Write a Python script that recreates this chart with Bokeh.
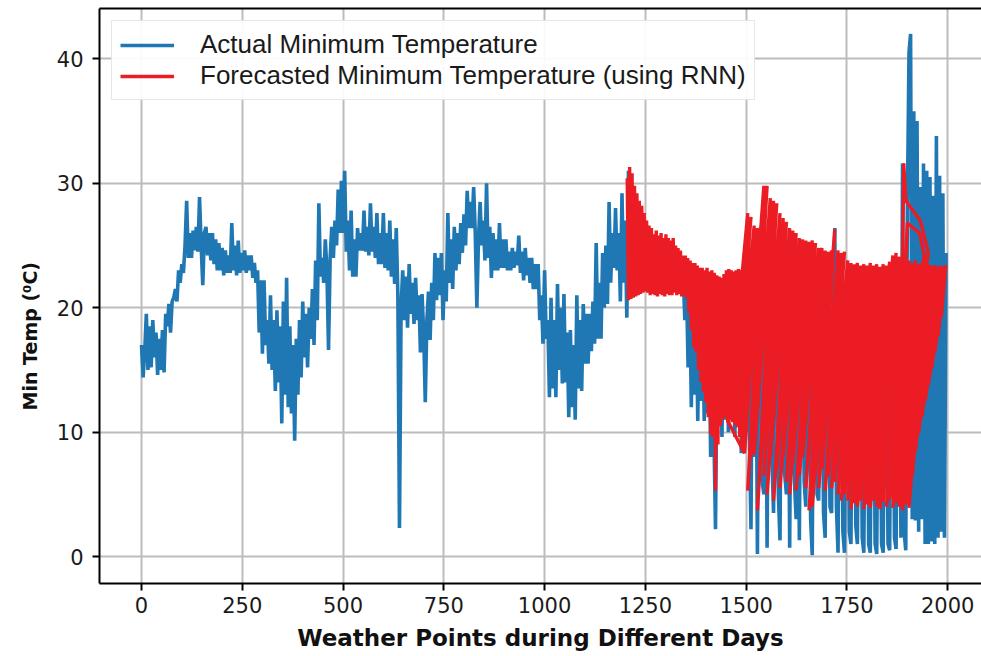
from bokeh.plotting import figure
from bokeh.models import (ColumnDataSource, FixedTicker, LinearAxis, Legend, LegendItem,
                          Range1d, Title)
from bokeh.embed import file_html
from bokeh.resources import INLINE

# ---------------- data ----------------
x_ticks = [0, 250, 500, 750, 1000, 1250, 1500, 1750, 2000]
y_ticks = [0, 10, 20, 30, 40]

# actual minimum temperature, one reading every 4 weather points (0..1996)
actual_day = list(range(0, 2000, 4))
actual_temp = [
    17.0, 14.4, 16.5, 19.5, 15.0, 18.5, 15.2, 19.0, 16.0, 18.0,
    14.6, 17.5, 15.0, 18.2, 14.8, 19.5, 18.5, 20.3, 18.0, 20.5,
    20.8, 21.5, 20.5, 23.0, 22.0, 23.5, 22.8, 25.0, 28.6, 24.0,
    26.0, 24.0, 26.2, 24.6, 26.5, 24.5, 28.9, 25.0, 21.8, 26.0,
    26.5, 24.2, 26.0, 23.8, 26.0, 23.5, 25.5, 23.0, 25.2, 23.0,
    24.8, 22.6, 24.6, 22.8, 24.2, 22.8, 26.8, 23.0, 25.0, 22.6,
    25.4, 22.8, 24.4, 23.0, 24.6, 22.8, 24.2, 23.0, 24.2, 22.4,
    23.6, 22.0, 23.0, 18.0, 22.2, 16.3, 22.2, 17.0, 19.0, 15.5,
    21.0, 15.0, 19.0, 13.3, 19.8, 14.0, 18.5, 10.7, 20.5, 13.0,
    22.4, 12.0, 18.5, 11.5, 17.0, 9.3, 17.5, 13.0, 19.0, 14.4,
    20.5, 16.0, 19.5, 15.2, 20.0, 17.5, 21.5, 17.0, 23.8, 19.0,
    28.4, 22.5, 24.0, 22.0, 25.5, 23.0, 16.6, 24.0, 26.5, 24.0,
    27.0, 25.0, 29.5, 26.0, 30.2, 26.0, 31.0, 24.5, 27.0, 23.0,
    27.8, 22.5, 25.5, 22.5, 26.4, 24.6, 26.0, 24.6, 27.8, 24.5,
    26.5, 24.2, 28.4, 24.5, 26.5, 24.0, 27.6, 23.5, 26.0, 23.5,
    27.6, 23.2, 26.0, 23.0, 27.0, 22.5, 25.5, 21.9, 26.4, 21.0,
    2.3, 20.0, 23.0, 19.0, 22.5, 18.4, 23.5, 19.5, 22.0, 18.7,
    22.4, 19.0, 21.0, 16.4, 21.1, 18.0, 12.4, 19.0, 21.3, 17.4,
    22.0, 19.0, 24.4, 20.6, 24.0, 21.0, 24.4, 19.0, 23.0, 20.5,
    27.6, 22.0, 25.5, 21.5, 26.5, 23.0, 26.0, 23.5, 26.8, 24.4,
    27.5, 25.0, 29.4, 26.4, 28.5, 26.4, 29.7, 26.0, 20.0, 25.5,
    28.5, 25.0, 27.0, 23.8, 30.0, 24.0, 26.5, 22.4, 26.0, 23.0,
    25.5, 23.0, 26.8, 23.2, 25.5, 23.2, 25.5, 23.0, 24.5, 23.0,
    24.8, 23.2, 24.5, 23.4, 25.8, 22.8, 24.5, 22.2, 24.8, 22.6,
    24.0, 22.0, 24.0, 21.5, 23.5, 21.5, 23.5, 19.0, 21.0, 17.1,
    23.0, 17.5, 19.0, 12.8, 20.8, 13.5, 19.0, 12.8, 21.9, 15.0,
    20.0, 13.9, 21.1, 14.0, 18.0, 11.2, 18.2, 12.0, 17.0, 11.0,
    21.0, 13.5, 19.0, 13.3, 20.3, 15.5, 19.5, 15.5, 19.5, 16.5,
    20.5, 17.1, 25.2, 17.5, 22.0, 17.5, 24.4, 20.0, 25.0, 20.3,
    28.5, 22.0, 26.0, 23.2, 28.0, 23.0, 26.0, 20.5, 29.2, 22.0,
    27.0, 19.2, 31.0, 24.0, 28.0, 23.0, 28.0, 23.5, 27.5, 23.0,
    27.0, 22.5, 26.5, 22.5, 26.0, 22.0, 25.5, 22.0, 25.0, 21.5,
    25.0, 21.5, 24.5, 21.5, 24.5, 21.5, 24.0, 21.5, 24.0, 21.5,
    23.5, 21.5, 23.5, 21.2, 23.0, 21.2, 22.5, 19.0, 22.0, 15.2,
    21.5, 12.0, 21.0, 13.0, 20.5, 10.9, 20.0, 12.5, 19.5, 10.9,
    19.0, 11.5, 18.5, 8.0, 18.0, 10.0, 2.2, 17.0, 10.5, 16.0,
    9.6, 18.5, 11.0, 19.0, 10.0, 19.0, 11.0, 20.0, 9.6, 20.0,
    10.5, 20.5, 8.3, 21.0, 24.4, 10.0, 22.0, 10.5, 2.2, 22.0,
    8.0, 22.0, 0.2, 23.0, 24.0, 6.0, 5.0, 22.0, 0.7, 23.0,
    25.0, 8.0, 3.5, 22.0, 22.0, 5.0, 1.3, 21.0, 21.0, 6.5,
    5.0, 22.0, 0.7, 21.0, 22.0, 6.0, 3.0, 20.5, 1.3, 20.0,
    20.0, 6.0, 4.0, 21.0, 20.0, 3.0, 0.1, 21.5, 22.0, 5.0,
    4.5, 21.0, 20.0, 3.5, 1.5, 20.5, 21.0, 4.0, 3.5, 21.0,
    26.4, 4.0, 0.3, 20.5, 20.0, 2.0, 0.3, 19.5, 19.0, 2.0,
    1.0, 20.0, 21.0, 2.5, 1.0, 19.5, 18.0, 1.5, 0.3, 19.0,
    20.0, 1.0, 0.3, 19.5, 19.0, 1.0, 0.2, 18.0, 17.0, 1.0,
    0.3, 18.5, 18.0, 1.0, 0.5, 19.0, 20.0, 1.5, 0.6, 21.0,
    22.0, 1.5, 31.6, 2.0, 0.5, 28.0, 40.5, 42.0, 3.0, 35.8,
    2.9, 35.0, 2.0, 29.7, 3.0, 31.6, 1.0, 31.0, 1.0, 30.5,
    1.2, 29.0, 1.0, 33.8, 1.5, 30.6, 2.0, 29.2, 1.5, 24.4,
]

# forecasted minimum temperature (RNN), in the order the points were plotted
forecast_day = [
    1205, 1208, 1211, 1214, 1217, 1220, 1223, 1226, 1229, 1232,
    1235, 1238, 1241, 1244, 1247, 1250, 1253, 1256, 1259, 1262,
    1265, 1268, 1271, 1274, 1277, 1280, 1283, 1286, 1289, 1292,
    1295, 1298, 1301, 1304, 1307, 1310, 1313, 1316, 1319, 1322,
    1325, 1328, 1331, 1334, 1337, 1340, 1343, 1346, 1349, 1352,
    1355, 1358, 1361, 1364, 1367, 1370, 1373, 1376, 1379, 1382,
    1385, 1388, 1391, 1394, 1397, 1400, 1403, 1406, 1409, 1412,
    1415, 1418, 1421, 1424, 1427, 1430, 1433, 1436, 1439, 1442,
    1445, 1448, 1451, 1454, 1457, 1460, 1463, 1466, 1469, 1472,
    1475, 1478, 1481, 1484, 1487, 1490, 1493, 1496,
    1456, 1504, 1464, 1512, 1472, 1520, 1480, 1528, 1488, 1536,
    1496, 1544, 1504, 1552, 1512, 1560, 1520, 1568, 1528, 1576,
    1536, 1584, 1544, 1592, 1552, 1600, 1560, 1608, 1568, 1616,
    1576, 1624, 1584, 1632, 1592, 1640, 1600, 1648, 1608, 1656,
    1616, 1664, 1624, 1672, 1632, 1680, 1640, 1688, 1648, 1696,
    1656, 1704, 1664, 1712, 1672, 1720, 1680, 1728, 1688, 1736,
    1696, 1744, 1704, 1752, 1712, 1760, 1720, 1768, 1728, 1776,
    1736, 1784, 1744, 1792, 1752, 1800, 1760, 1808, 1768, 1816,
    1776, 1824, 1784, 1832, 1792, 1840, 1800, 1848, 1808, 1856,
    1816, 1864, 1824, 1872, 1832, 1880,
    1840, 1888, 1891, 1896, 1932, 1952,
    1848, 1896, 1900, 1930, 1942,
    1856, 1904, 1864, 1912, 1872, 1920, 1880, 1928, 1888, 1936,
    1896, 1944, 1904, 1952, 1912, 1960, 1920, 1968, 1928, 1976,
    1936, 1984, 1944, 1992, 1952, 1995, 1960, 1995, 1968, 1995,
    1976, 1995, 1984, 1995,
]
forecast_temp = [
    30.4, 20.6, 31.3, 20.7, 30.8, 20.8, 29.8, 20.9, 29.2, 21.0,
    28.6, 21.1, 28.2, 21.2, 27.6, 21.3, 27.0, 21.2, 26.6, 21.0,
    26.4, 21.1, 25.9, 21.0, 26.2, 20.9, 25.8, 21.1, 26.0, 21.0,
    25.6, 20.9, 25.9, 21.1, 25.6, 21.0, 25.4, 21.0, 25.6, 21.2,
    25.0, 21.0, 24.8, 21.1, 24.6, 20.9, 24.2, 21.0, 24.2, 20.8,
    24.0, 19.6, 23.8, 18.2, 23.6, 16.8, 23.6, 16.4, 23.4, 15.0,
    23.2, 14.0, 23.2, 13.2, 23.0, 12.4, 23.2, 11.2, 22.9, 9.8,
    23.0, 9.6, 22.8, 5.3, 22.6, 9.0, 22.5, 10.5, 22.4, 11.0,
    22.7, 11.2, 23.0, 10.8, 23.1, 11.0, 23.0, 10.8, 22.9, 10.6,
    23.0, 10.4, 23.1, 9.6, 23.0, 8.6, 22.8, 8.3,
    10.8, 27.6, 11.0, 27.3, 10.6, 26.6, 10.4, 26.4, 8.6, 26.5,
    8.3, 29.8, 5.3, 29.8, 8.0, 28.8, 8.2, 28.6, 3.7, 28.4,
    7.5, 27.6, 6.5, 27.2, 5.0, 26.9, 8.0, 26.4, 4.5, 26.2,
    7.0, 26.0, 5.5, 25.6, 8.0, 25.5, 6.0, 25.4, 5.0, 25.3,
    7.5, 25.4, 5.3, 25.2, 6.5, 24.8, 8.0, 24.8, 5.5, 24.6,
    3.7, 24.5, 4.0, 24.6, 6.5, 26.3, 5.5, 24.6, 7.0, 24.4,
    5.3, 24.5, 6.5, 23.8, 5.5, 23.6, 6.0, 23.5, 5.0, 23.6,
    4.5, 23.4, 5.0, 23.5, 4.5, 23.4, 3.8, 23.6, 4.3, 23.4,
    4.0, 23.5, 4.5, 23.3, 3.8, 23.5, 4.2, 23.4, 3.9, 23.7,
    4.5, 24.2, 4.0, 24.4, 3.8, 24.1,
    4.4, 23.8, 31.6, 28.6, 27.0, 24.4,
    4.0, 23.8, 26.8, 26.0, 24.2,
    4.6, 23.8, 3.9, 23.6, 4.3, 23.8, 4.0, 23.5, 3.7, 23.6,
    4.2, 23.4, 3.9, 23.5, 6.5, 23.4, 8.5, 23.4, 9.9, 23.3,
    11.2, 23.4, 12.5, 23.3, 13.8, 23.4, 15.1, 23.3, 16.4, 23.4,
    17.7, 23.3, 19.2, 23.4,
]

assert len(actual_day) == len(actual_temp)
assert len(forecast_day) == len(forecast_temp)

legend_labels = ["Actual Minimum Temperature",
                 "Forecasted Minimum Temperature (using RNN)"]
x_title = "Weather Points during Different Days"
y_title = "Min Temp (\u2070C)"

# ---------------- figure ----------------
p = figure(width=981, height=656,
           x_range=Range1d(-104.2, 2083.9), y_range=Range1d(-2.17, 44.05),
           output_backend="svg", toolbar_location=None,
           min_border_left=99, min_border_right=0,
           min_border_top=8, min_border_bottom=73)
p.outline_line_color = None
p.background_fill_color = "white"
p.border_fill_color = "white"

blue_src = ColumnDataSource(dict(x=actual_day, y=actual_temp))
red_src = ColumnDataSource(dict(x=forecast_day, y=forecast_temp))

r_blue = p.line("x", "y", source=blue_src, line_color="#1f77b4", line_width=3.6)
r_red = p.line("x", "y", source=red_src, line_color="#ec1c24", line_width=3.4)

# grid
for g in (p.xgrid, p.ygrid):
    g.grid_line_color = "#bcbcbc"
    g.grid_line_width = 2

# axes
p.xaxis.ticker = FixedTicker(ticks=x_ticks)
p.yaxis.ticker = FixedTicker(ticks=y_ticks)
for ax in (p.xaxis[0], p.yaxis[0]):
    ax.axis_line_color = "black"
    ax.axis_line_width = 2
    ax.major_tick_line_color = "black"
    ax.major_tick_line_width = 2
    ax.major_tick_out = 7
    ax.major_tick_in = 0
    ax.minor_tick_line_color = None
    ax.major_label_text_font = "DejaVu Sans"
    ax.major_label_text_font_size = "21px"
    ax.major_label_text_color = "#1a1a1a"
    ax.axis_label_text_font = "DejaVu Sans"
    ax.axis_label_text_font_style = "bold"
    ax.axis_label_text_color = "#111111"

p.xaxis.axis_label = x_title
p.xaxis.axis_label_text_font_size = "23px"
p.xaxis.major_label_standoff = 6
p.xaxis.axis_label_standoff = 9
p.yaxis.major_label_standoff = 9

# y title: a side title, placed a little below the frame centre as in the original
ytitle = Title(text=y_title, align="left", offset=173, standoff=26,
               text_font="DejaVu Sans", text_font_style="bold",
               text_font_size="19px", text_color="#111111")
p.add_layout(ytitle, "left")

# top spine
top = LinearAxis(ticker=FixedTicker(ticks=[]))
top.axis_line_color = "black"
top.axis_line_width = 2
top.major_tick_line_color = None
top.minor_tick_line_color = None
top.major_label_text_font_size = "0px"
top.major_label_standoff = 0
p.add_layout(top, "above")

# legend
legend = Legend(items=[LegendItem(label=legend_labels[0], renderers=[r_blue]),
                       LegendItem(label=legend_labels[1], renderers=[r_red])],
                location="top_left")
legend.label_text_font = "Liberation Sans"
legend.label_text_font_size = "26px"
legend.label_text_color = "#1a1a1a"
legend.glyph_width = 54
legend.glyph_height = 26
legend.label_height = 26
legend.label_standoff = 26
legend.padding = 8
legend.spacing = 0
legend.margin = 12
legend.border_line_color = "#cfcfcf"
legend.border_line_width = 1.5
legend.background_fill_color = "white"
legend.background_fill_alpha = 0.92
p.add_layout(legend)

open("out.html", "w").write(file_html(p, INLINE))
